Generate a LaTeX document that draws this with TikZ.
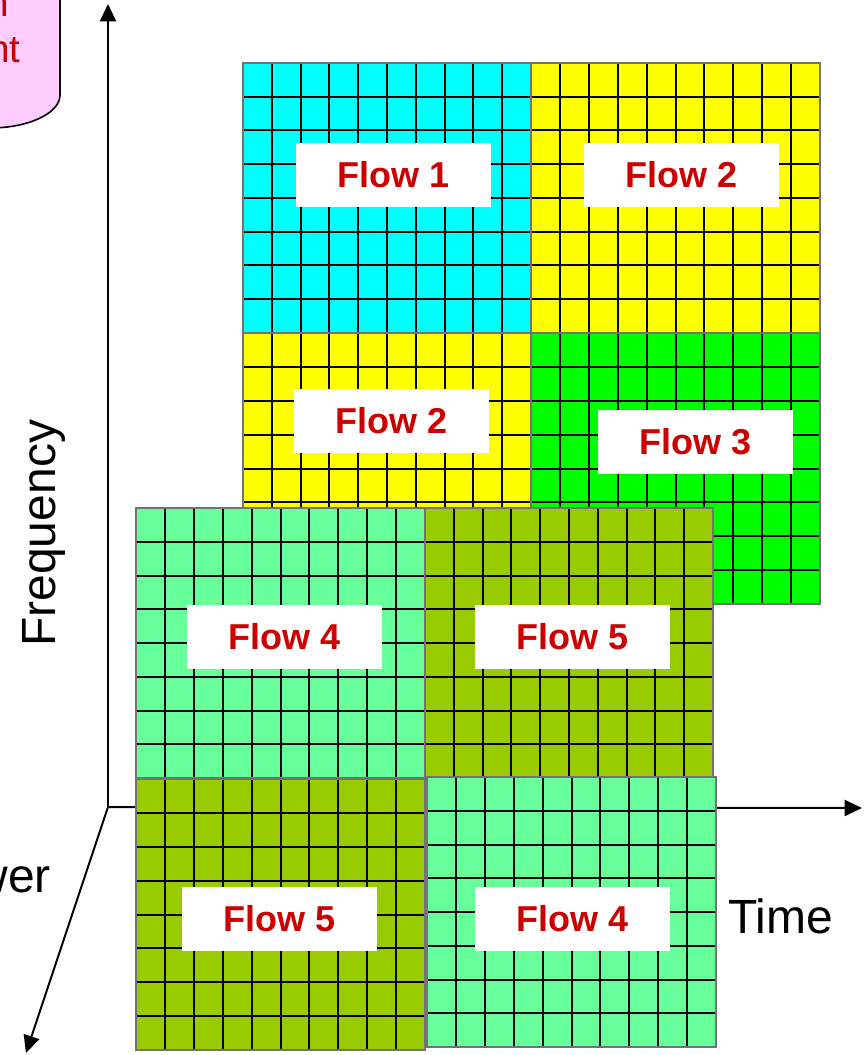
\documentclass[tikz,border=0pt]{standalone}
\usepackage{fontspec}
\setmainfont{Liberation Sans}
\usetikzlibrary{arrows.meta}

\definecolor{flowcyan}{HTML}{00FFFF}
\definecolor{flowyellow}{HTML}{FFFF00}
\definecolor{flowgreen}{HTML}{00FF00}
\definecolor{flowmint}{HTML}{66FF99}
\definecolor{flowolive}{HTML}{99CC00}
\definecolor{labelred}{HTML}{CC0000}
\definecolor{notepink}{HTML}{FFCCFF}

% one block of resource cells: 10 columns x 8 rows
% #1,#2 = top-left corner, #3 = width, #4 = height, #5 = fill colour
\newcommand\flowblock[5]{%
  \fill[#5] (#1,#2) rectangle ++(#3,#4);
  \foreach \i in {1,...,9}
    \draw[cellline] ({#1+\i*#3/10},#2) -- ++(0,#4);
  \foreach \j in {1,...,7}
    \draw[cellline] (#1,{#2+\j*#4/8}) -- ++(#3,0);
  \draw[blockedge] (#1,#2) rectangle ++(#3,#4);
}

\tikzset{
  cellline/.style={black, line width=1.5pt},
  blockedge/.style={black!55, line width=1.6pt},
  flowlabel/.style={fill=white, text=labelred, inner sep=0pt,
    minimum width=146pt, minimum height=48pt,
    font=\fontsize{27}{32}\selectfont\bfseries},
  axisline/.style={black, line width=1.5pt},
  axisarrow/.style={axisline, -{Triangle[length=13pt,width=12pt]}},
  axislabel/.style={font=\fontsize{36}{42}\selectfont, inner sep=0pt},
}

\begin{document}
\begin{tikzpicture}[x=0.75pt, y=-0.75pt]
\useasboundingbox (0,0) rectangle (866,1055);
\clip (0,0) rectangle (866,1055);

% note cylinder, mostly off the page on the left
\path[fill=notepink, draw=black, line width=1.2pt]
  (60,-20) -- (60,95) arc[start angle=0, end angle=-180,
  x radius=52.5pt, y radius=24.75pt] -- (-80,-20) -- cycle;
\node[anchor=base east, text=labelred, inner sep=0pt,
  font=\fontsize{29}{34}\selectfont] (note1) at (9,17) {n};
\node[anchor=base east, text=labelred, inner sep=0pt,
  font=\fontsize{29}{34}\selectfont] (note2) at (21,63) {nt};

% axes
\coordinate (origin) at (108,807);
\coordinate (freqtip) at (108,4);
\coordinate (timetip) at (862,808);
\coordinate (powertip) at (26,1053);
\draw[axisarrow] (origin) -- (freqtip);
\draw[axisarrow] (origin) -- (timetip);
\draw[axisarrow] (origin) -- (powertip);

% back layer
\flowblock{243}{63}{288}{270}{flowcyan}
\flowblock{531}{63}{289}{270}{flowyellow}
\flowblock{243}{333}{288}{271}{flowyellow}
\flowblock{531}{333}{289}{271}{flowgreen}
\node[flowlabel] (f1)  at (393.5,175)   {Flow 1};
\node[flowlabel] (f2a) at (681.5,175)   {Flow 2};
\node[flowlabel] (f2b) at (391.5,420.5) {Flow 2};
\node[flowlabel] (f3)  at (695.5,442)   {Flow 3};

% front layer
\flowblock{136}{508}{289}{270}{flowmint}
\flowblock{425}{508}{288}{270}{flowolive}
\flowblock{136}{779}{289}{271}{flowolive}
\flowblock{427}{777}{289}{270}{flowmint}
\node[flowlabel] (f4a) at (284.5,637)   {Flow 4};
\node[flowlabel] (f5a) at (572.5,637)   {Flow 5};
\node[flowlabel] (f5b) at (279.5,918.5) {Flow 5};
\node[flowlabel] (f4b) at (572.5,919)   {Flow 4};

% axis names
\node[axislabel, rotate=90, anchor=base west] (freq) at (55,647) {Frequency};
\node[axislabel, anchor=base west] (time) at (728,933) {Time};
\node[axislabel, anchor=base east] (power) at (51,892) {Power};
\end{tikzpicture}
\end{document}
